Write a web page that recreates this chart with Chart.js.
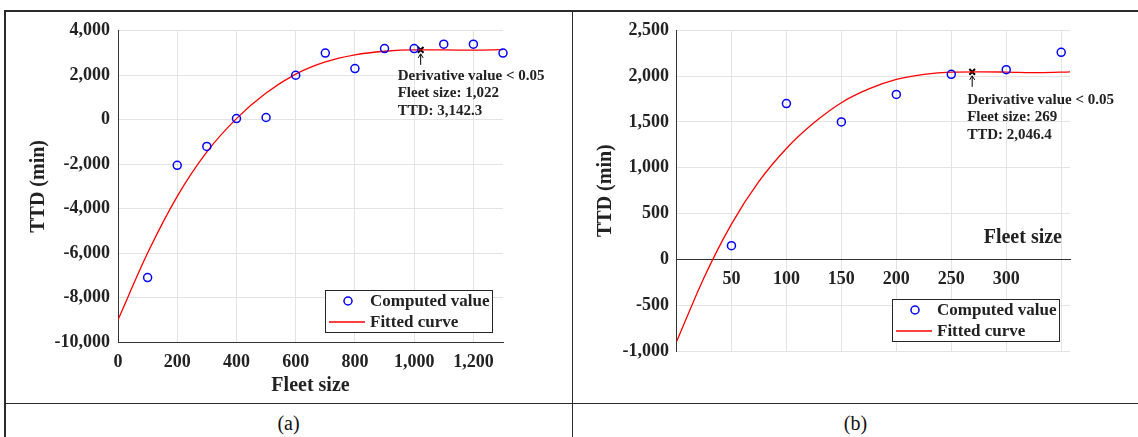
<!DOCTYPE html>
<html>
<head>
<meta charset="utf-8">
<script src="https://cdn.jsdelivr.net/npm/chart.js@4/dist/chart.umd.min.js"></script>
<style>
  body { margin: 0; width: 1138px; height: 437px; overflow: hidden; position: relative; background: #fff;
         font-family: 'Liberation Serif', 'Times New Roman', serif; }
  .rule { position: absolute; background: #2b2b2b; }
  .cap { position: absolute; top: 410px; height: 26px; line-height: 26px; font-size: 20px; text-align: center; color: #111; }
  .box { position: absolute; top: 12px; width: 564px; height: 390px; }
</style>
</head>
<body>
<div class="rule" style="left:4px;top:10px;width:1134px;height:1.5px"></div>
<div class="rule" style="left:4px;top:10px;width:1.5px;height:427px"></div>
<div class="rule" style="left:571.5px;top:10px;width:1.5px;height:427px"></div>
<div class="rule" style="left:4px;top:402.5px;width:1134px;height:1.5px"></div>
<div class="cap" style="left:5px;width:567px">(a)</div>
<div class="cap" style="left:573px;width:565px">(b)</div>
<div class="box" style="left:6px"><canvas id="chartA"></canvas></div>
<div class="box" style="left:574px"><canvas id="chartB"></canvas></div>
<script>
// (a) computed TTD vs fleet size
const fleetA = [100, 200, 300, 400, 500, 600, 700, 800, 900, 1000, 1100, 1200, 1300];
const ttdA = [-7100, -2050, -1200, 50, 100, 2000, 3000, 2300, 3200, 3200, 3400, 3400, 3000];
// (a) fitted curve
const fitFleetA = [0, 100, 200, 300, 400, 500, 600, 700, 800, 900, 1000, 1100, 1200, 1300];
const fitTtdA = [-9000, -6000, -3450, -1450, 50, 1200, 2050, 2600, 2920, 3080, 3140, 3140, 3130, 3150];
const markA = { x: 1022, y: 3142.3 };
const noteA = ['Derivative value < 0.05', 'Fleet size: 1,022', 'TTD: 3,142.3'];

// (b)
const fleetB = [50, 100, 150, 200, 250, 300, 350];
const ttdB = [150, 1700, 1500, 1800, 2020, 2070, 2260];
const fitFleetB = [0, 25, 50, 75, 100, 125, 150, 175, 200, 225, 250, 275, 300, 330, 358];
const fitTtdB = [-900, -200, 385, 850, 1210, 1490, 1710, 1860, 1964, 2019, 2044, 2047, 2044, 2038, 2047];
const markB = { x: 269, y: 2046.4 };
const noteB = ['Derivative value < 0.05', 'Fleet size: 269', 'TTD: 2,046.4'];

const legendLabels = ['Computed value', 'Fitted curve'];

const SERIF = "'Liberation Serif', 'Times New Roman', serif";
const INK = '#222';
const GRID = '#e3e3e3';

const pts = (xs, ys) => xs.map((x, i) => ({ x: x, y: ys[i] }));
const fmt = v => Number(v).toLocaleString('en-US');

// note arrow + text, boxed legend, optional in-plot x title
const extras = {
    id: 'extras',
    afterDatasetsDraw(chart, args, opts) {
        const { ctx, chartArea: ca, scales } = chart;
        ctx.save();
        const mx = scales.x.getPixelForValue(opts.mark.x);
        const my = scales.y.getPixelForValue(opts.mark.y);
        ctx.strokeStyle = '#000';
        ctx.lineWidth = 1;
        ctx.beginPath();
        ctx.moveTo(mx, my + 15);
        ctx.lineTo(mx, my + 4);
        ctx.moveTo(mx - 2.5, my + 8);
        ctx.lineTo(mx, my + 4);
        ctx.lineTo(mx + 2.5, my + 8);
        ctx.stroke();

        ctx.fillStyle = INK;
        ctx.font = 'bold 15px ' + SERIF;
        ctx.textAlign = 'left';
        ctx.textBaseline = 'middle';
        opts.note.forEach((t, i) => ctx.fillText(t, mx + opts.noteDx, my + opts.noteDy + i * 17.5));

        // legend
        const w = 167, h = 42;
        const L = ca.right - 11 - w, T = ca.bottom - 10 - h;
        ctx.fillStyle = '#fff';
        ctx.fillRect(L, T, w, h);
        ctx.strokeStyle = '#262626';
        ctx.strokeRect(L + 0.5, T + 0.5, w, h);
        ctx.strokeStyle = '#0000ff';
        ctx.lineWidth = 1.5;
        ctx.beginPath();
        ctx.arc(L + 23, T + 11, 4, 0, Math.PI * 2);
        ctx.stroke();
        ctx.strokeStyle = '#ff0000';
        ctx.lineWidth = 1.3;
        ctx.beginPath();
        ctx.moveTo(L + 4, T + 32);
        ctx.lineTo(L + 40, T + 32);
        ctx.stroke();
        ctx.fillStyle = INK;
        ctx.font = 'bold 17px ' + SERIF;
        ctx.fillText(legendLabels[0], L + 45, T + 12);
        ctx.fillText(legendLabels[1], L + 45, T + 33);

        if (opts.xTitle) {
            ctx.font = 'bold 20px ' + SERIF;
            ctx.textAlign = 'right';
            ctx.fillText(opts.xTitle, ca.right - 8, scales.y.getPixelForValue(0) - 22);
        }
        ctx.restore();
    }
};

function datasets(fx, fy, fitX, fitY, mark) {
    return [
        {
            label: legendLabels[0],
            data: pts(fx, fy),
            pointStyle: 'circle',
            pointRadius: 4,
            pointBorderWidth: 1.5,
            borderColor: '#0000ff',
            backgroundColor: 'rgba(0,0,0,0)',
            showLine: false,
            clip: false
        },
        {
            label: legendLabels[1],
            data: pts(fitX, fitY),
            showLine: true,
            borderColor: '#ff0000',
            borderWidth: 1.3,
            pointRadius: 0,
            cubicInterpolationMode: 'monotone'
        },
        {
            label: 'mark',
            data: [mark],
            pointStyle: 'crossRot',
            pointRadius: 4,
            pointBorderWidth: 2,
            borderColor: '#000',
            showLine: false,
            clip: false
        }
    ];
}

const tickFont = { family: SERIF, size: 18, weight: 'bold' };
const titleFont = { family: SERIF, size: 20, weight: 'bold' };

new Chart(document.getElementById('chartA'), {
    type: 'scatter',
    data: { datasets: datasets(fleetA, ttdA, fitFleetA, fitTtdA, markA) },
    options: {
        responsive: true,
        maintainAspectRatio: false,
        animation: false,
        layout: { padding: { top: 18, right: 67, bottom: 0, left: 0 } },
        plugins: {
            legend: { display: false },
            tooltip: { enabled: false },
            extras: { mark: markA, note: noteA, noteDx: -23, noteDy: 26 }
        },
        scales: {
            x: {
                type: 'linear',
                min: 0,
                max: 1300,
                afterFit: s => { s.height = 60; },
                ticks: {
                    stepSize: 200, includeBounds: false, padding: 10, color: INK, font: tickFont,
                    maxRotation: 0, autoSkip: false, callback: v => fmt(v)
                },
                grid: { color: GRID, drawTicks: false },
                border: { color: '#333', width: 1 },
                title: { display: true, text: 'Fleet size', color: INK, font: titleFont, padding: { top: 0, bottom: 4 } }
            },
            y: {
                min: -10000,
                max: 4000,
                afterFit: s => { s.width = 112; },
                ticks: { stepSize: 2000, padding: 8, color: INK, font: tickFont, autoSkip: false, callback: v => fmt(v) },
                grid: { color: GRID, drawTicks: false },
                border: { color: '#333', width: 1 },
                title: { display: true, text: 'TTD (min)', color: INK, font: titleFont, padding: { top: 21, bottom: 0 } }
            }
        }
    },
    plugins: [extras]
});

new Chart(document.getElementById('chartB'), {
    type: 'scatter',
    data: { datasets: datasets(fleetB, ttdB, fitFleetB, fitTtdB, markB) },
    options: {
        responsive: true,
        maintainAspectRatio: false,
        animation: false,
        layout: { padding: { top: 16, right: 68, bottom: 51, left: 0 } },
        plugins: {
            legend: { display: false },
            tooltip: { enabled: false },
            extras: { mark: markB, note: noteB, noteDx: -5, noteDy: 28, xTitle: 'Fleet size' }
        },
        scales: {
            x: {
                type: 'linear',
                position: { y: 0 },
                min: 0,
                max: 358,
                ticks: {
                    stepSize: 50, includeBounds: false, padding: 9, color: INK, font: tickFont,
                    maxRotation: 0, autoSkip: false,
                    callback: v => (v > 0 && v <= 300 ? fmt(v) : '')
                },
                grid: { color: GRID, drawTicks: false },
                border: { color: '#333', width: 1 }
            },
            y: {
                min: -1000,
                max: 2500,
                afterFit: s => { s.width = 102.5; },
                ticks: { stepSize: 500, padding: 7.5, color: INK, font: tickFont, autoSkip: false, callback: v => fmt(v) },
                grid: { color: GRID, drawTicks: false },
                border: { color: '#333', width: 1 },
                title: { display: true, text: 'TTD (min)', color: INK, font: titleFont, padding: { top: 20, bottom: 0 } }
            }
        }
    },
    plugins: [extras]
});
</script>
</body>
</html>
